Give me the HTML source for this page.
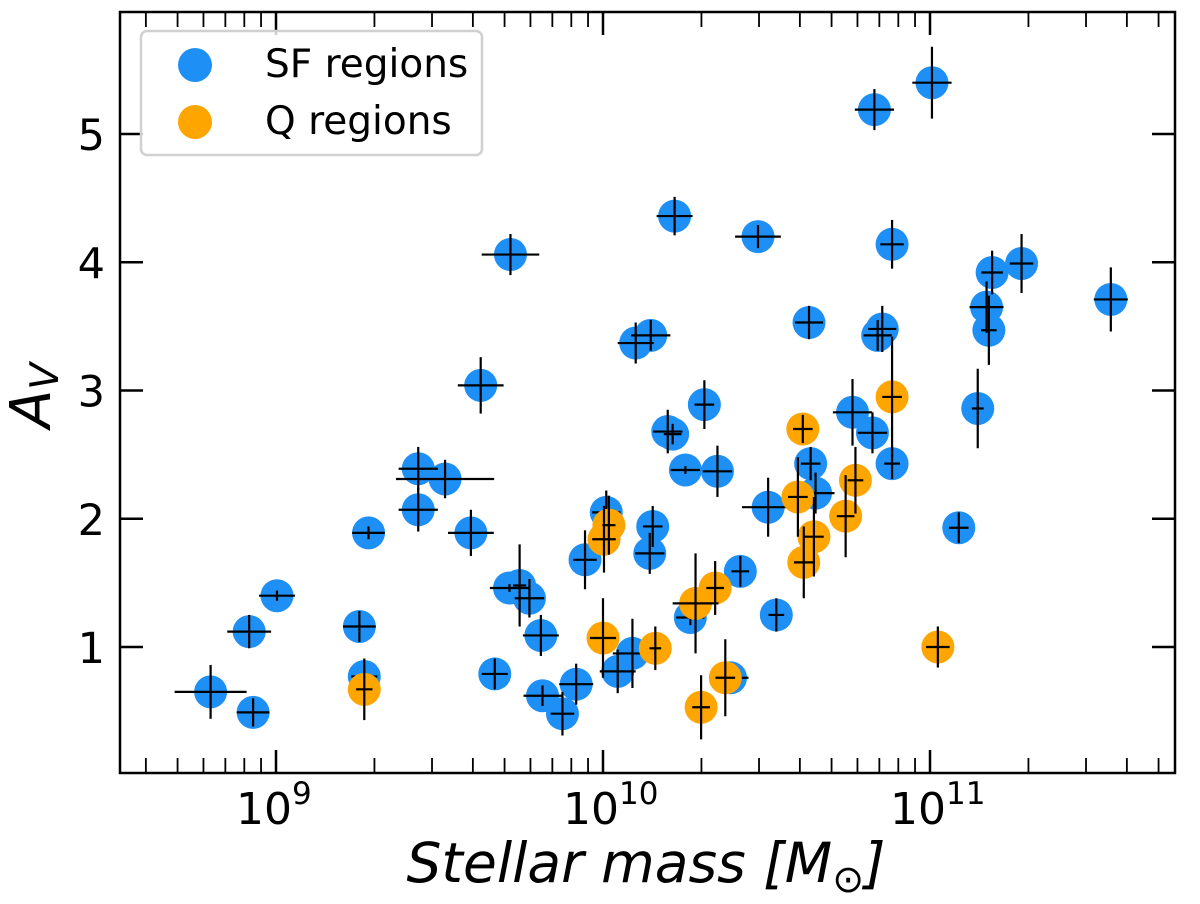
<!DOCTYPE html>
<html><head><meta charset="utf-8"><style>
html,body{margin:0;padding:0;background:#fff;}
svg{display:block;font-family:"DejaVu Sans","Liberation Sans",sans-serif;}
</style></head><body>
<svg id="chart" width="1200" height="904" viewBox="0 0 1200 904">
<g id="marks"></g>
<g id="axes"></g>
<g>
<rect x="141" y="31" width="341" height="124" rx="6" fill="#fff" fill-opacity="0.8" stroke="#d0d0d0" stroke-width="2.5"/>
<circle cx="195" cy="65" r="17" fill="#1e8ff5"/>
<text x="265" y="77" font-size="39">SF regions</text>
<circle cx="195" cy="122" r="17" fill="#ffa500"/>
<text x="265" y="134" font-size="39">Q regions</text>
</g>
<text x="646" y="882" font-size="55" font-style="italic" text-anchor="middle">Stellar mass [<tspan>M</tspan><tspan font-size="38" dy="10">⊙</tspan><tspan dy="-10">]</tspan></text>
<text transform="translate(50,428) rotate(-90)" font-size="56" font-style="italic">A<tspan font-size="39" dy="8">V</tspan></text>
</svg>
<script>
// SF regions
const sfLogM = [8.80,8.93,8.918,9.003,9.255,9.27,9.283,9.435,9.517,9.435,9.596,9.626,9.669,9.714,9.745,9.775,10.10,10.146,9.81,9.815,9.876,9.918,9.945,10.01,10.045,10.09,10.152,10.143,10.198,10.213,10.252,10.35,10.31,10.267,10.42,10.39,10.505,10.53,10.635,10.65,10.763,10.824,10.884,9.717,10.219,10.474,10.83,11.006,10.884,11.19,11.28,11.553,11.173,11.18,10.63,10.854,10.84,11.146,11.088];
const sfAV   = [0.65,0.49,1.12,1.40,1.16,0.77,1.89,2.39,2.31,2.07,1.89,3.04,0.79,1.46,1.48,1.38,3.37,3.43,1.09,0.62,0.48,0.71,1.68,2.05,0.81,0.95,1.94,1.73,2.68,2.66,2.38,2.37,2.89,1.23,1.59,0.76,2.09,1.25,2.43,2.20,2.83,2.67,2.43,4.06,4.36,4.20,5.19,5.40,4.14,3.92,3.99,3.71,3.65,3.47,3.53,3.48,3.43,2.86,1.93];
const sfXerr = [0.11,0.05,0.067,0.055,0.05,0.04,0.05,0.06,0.15,0.06,0.07,0.07,0.04,0.06,0.02,0.045,0.055,0.06,0.055,0.058,0.036,0.052,0.036,0.043,0.055,0.06,0.03,0.045,0.045,0.027,0.045,0.045,0.03,0.043,0.027,0.055,0.08,0.024,0.03,0.058,0.06,0.045,0.024,0.088,0.055,0.07,0.06,0.06,0.036,0.033,0.036,0.052,0.052,0.024,0.043,0.043,0.043,0.018,0.03];
const sfYerr = [0.21,0.11,0.13,0.04,0.12,0.05,0.05,0.17,0.15,0.17,0.18,0.22,0.12,0.03,0.32,0.15,0.16,0.12,0.16,0.08,0.17,0.16,0.23,0.17,0.17,0.27,0.16,0.16,0.17,0.08,0.03,0.2,0.19,0.06,0.12,0.12,0.23,0.13,0.13,0.16,0.26,0.16,0.12,0.16,0.15,0.09,0.16,0.28,0.19,0.17,0.23,0.25,0.2,0.27,0.13,0.18,0.12,0.31,0.12];
// Q regions
const qLogM = [9.27,10.018,10.003,10.0,10.16,10.283,10.343,10.30,10.374,10.611,10.596,10.645,10.614,10.742,10.772,10.884,11.024];
const qAV   = [0.67,1.95,1.84,1.07,0.99,1.34,1.46,0.53,0.76,2.70,2.17,1.86,1.66,2.02,2.30,2.95,1.00];
const qXerr = [0.025,0.02,0.036,0.04,0.018,0.07,0.027,0.027,0.03,0.03,0.03,0.03,0.03,0.027,0.024,0.03,0.036];
const qYerr = [0.24,0.23,0.26,0.31,0.17,0.39,0.21,0.25,0.3,0.11,0.31,0.31,0.28,0.32,0.26,0.47,0.16];
const yTicks = [1,2,3,4,5];
const xDecades = [9,10,11];

const L=120,R=1175,T=12,B=773;
const X0=276, DEC=327;
const xMin = 9-(X0-L)/DEC, xMax = 9+(R-X0)/DEC;
function sx(lm){return X0+DEC*(lm-9);}
const Y1=647, YU=128.25;
function sy(v){return Y1-(v-1)*YU;}
const NS="http://www.w3.org/2000/svg";
function mk(tag,attrs,parent){const e=document.createElementNS(NS,tag);for(const k in attrs)e.setAttribute(k,attrs[k]);parent.appendChild(e);return e;}
const marks=document.getElementById('marks'), axes=document.getElementById('axes');

function series(lm,av,xe,ye,color,name){
  const g=mk('g',{},marks);
  
  
  for(let i=0;i<lm.length;i++){
    const c=mk('circle',{cx:sx(lm[i]),cy:sy(av[i]),r:16.5,fill:color},g);
    
    
  }
  for(let i=0;i<lm.length;i++){
    const x=sx(lm[i]),y=sy(av[i]);
    const h=mk('line',{x1:sx(lm[i]-xe[i]),x2:sx(lm[i]+xe[i]),y1:y,y2:y,stroke:'#000','stroke-width':2.2},g);
    
    
    const v=mk('line',{x1:x,x2:x,y1:sy(av[i]-ye[i]),y2:sy(av[i]+ye[i]),stroke:'#000','stroke-width':2.2},g);
    
    
  }
}
series(sfLogM,sfAV,sfXerr,sfYerr,'#1e8ff5','sf');
series(qLogM,qAV,qXerr,qYerr,'#ffa500','q');

const fr=mk('rect',{x:L,y:T,width:R-L,height:B-T,fill:'none',stroke:'#000','stroke-width':2.5},axes);


for(let d=8;d<=11;d++){
  for(let m=1;m<=9;m++){
    const lm=d+Math.log10(m);
    if(lm<xMin||lm>xMax)continue;
    const x=sx(lm), len=(m===1)?23:15, w=(m===1)?2.5:1.8;
    const t1=mk('line',{x1:x,x2:x,y1:B,y2:B-len,stroke:'#000','stroke-width':w},axes);
    
    
    const t2=mk('line',{x1:x,x2:x,y1:T,y2:T+len,stroke:'#000','stroke-width':w},axes);
    
    
  }
}
xDecades.forEach(d=>{
  const t=mk('text',{x:sx(d)-40,y:824,'font-size':44},axes);
  
  
  t.textContent='10';
  const s=mk('tspan',{'font-size':31,dy:-20},t);
  s.textContent=String(d);
});
yTicks.forEach(v=>{
  const y=sy(v);
  const a=mk('line',{x1:L,x2:L+23,y1:y,y2:y,stroke:'#000','stroke-width':2.5},axes);
  
  
  const b=mk('line',{x1:R,x2:R-23,y1:y,y2:y,stroke:'#000','stroke-width':2.5},axes);
  
  
  const t=mk('text',{x:105,y:y+16,'font-size':43,'text-anchor':'end'},axes);
  
  
  t.textContent=String(v);
});
</script>
</body></html>
